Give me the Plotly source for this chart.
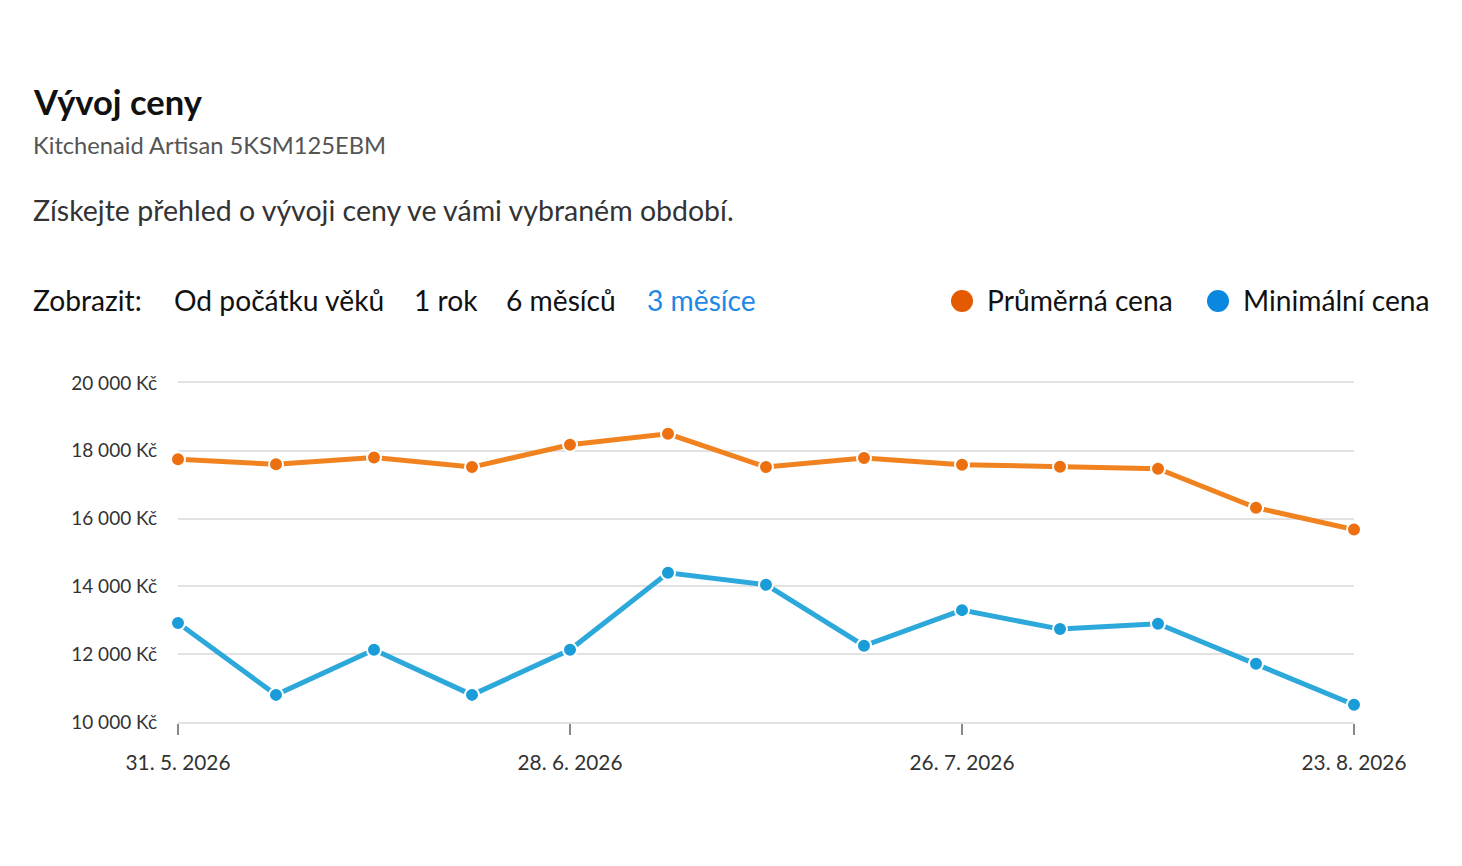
import plotly.graph_objects as go

# data (weekly points)
dates = ["2026-05-31", "2026-06-07", "2026-06-14", "2026-06-21", "2026-06-28",
         "2026-07-05", "2026-07-12", "2026-07-19", "2026-07-26", "2026-08-02",
         "2026-08-09", "2026-08-16", "2026-08-23"]
avg_price = [17750, 17600, 17800, 17520, 18180, 18500, 17520, 17790, 17590,
             17530, 17470, 16320, 15680]
min_price = [12920, 10800, 12130, 10800, 12130, 14400, 14050, 12250, 13300,
             12740, 12900, 11720, 10510]

y_ticks = [10000, 12000, 14000, 16000, 18000, 20000]
y_labels = ["10 000 Kč", "12 000 Kč", "14 000 Kč", "16 000 Kč", "18 000 Kč", "20 000 Kč"]
x_ticks = ["2026-05-31", "2026-06-28", "2026-07-26", "2026-08-23"]
x_labels = ["31. 5. 2026", "28. 6. 2026", "26. 7. 2026", "23. 8. 2026"]

periods = ["Od počátku věků", "1 rok", "6 měsíců", "3 měsíce"]
period_x = [174, 414, 506, 647]

FONT = "Lato, 'Noto Sans', sans-serif"
W, H = 1462, 866
OFF = 8  # page body margin
# plot area in screenshot pixels: x 178..1354, y 383..722
L, R = 178 - OFF, W - (1354 - OFF)
T, B = 383 - OFF, H - (722 - OFF)
PW, PH = W - L - R, H - T - B


def px(x):
    return (x - OFF - L) / PW


def py(y):
    return (H - B - (y - OFF)) / PH


fig = go.Figure()

fig.add_trace(go.Scatter(
    x=dates, y=avg_price, mode="lines+markers", name="Průměrná cena",
    line=dict(color="#F0831F", width=5),
    marker=dict(color="#EC7010", size=14, line=dict(color="white", width=2)),
    cliponaxis=False,
))
fig.add_trace(go.Scatter(
    x=dates, y=min_price, mode="lines+markers", name="Minimální cena",
    line=dict(color="#2DA8DA", width=5),
    marker=dict(color="#1A9CD8", size=14, line=dict(color="white", width=2)),
    cliponaxis=False,
))

ROW = 28.2
PAD = 2  # annotation inner padding
ann = []
ann.append(dict(text="<b>Vývoj ceny</b>", x=px(33 - PAD), y=py(101), font=dict(size=34.5, color="#111")))
ann.append(dict(text="Kitchenaid Artisan 5KSM125EBM", x=px(33 - PAD), y=py(145), font=dict(size=23.7, color="#555")))
ann.append(dict(text="Získejte přehled o vývoji ceny ve vámi vybraném období.", x=px(33 - PAD), y=py(210),
                font=dict(size=28.5, color="#333")))
ann.append(dict(text="Zobrazit:", x=px(33 - PAD), y=py(300), font=dict(size=ROW, color="#111")))
for i, p in enumerate(periods):
    col = "#1E88E5" if i == len(periods) - 1 else "#111"
    ann.append(dict(text=p, x=px(period_x[i] - PAD), y=py(300), font=dict(size=ROW, color=col)))
ann.append(dict(text="Průměrná cena", x=px(987 - PAD), y=py(300), font=dict(size=ROW, color="#111")))
ann.append(dict(text="Minimální cena", x=px(1243 - PAD), y=py(300), font=dict(size=ROW, color="#111")))
for a in ann:
    a.update(xref="paper", yref="paper", xanchor="left", yanchor="middle", showarrow=False)

shapes = []
for cx, col in [(962, "#E35A00"), (1218, "#0A88E0")]:
    shapes.append(dict(type="circle", xref="paper", yref="paper",
                       x0=px(cx - 11), x1=px(cx + 11), y0=py(301 + 11), y1=py(301 - 11),
                       fillcolor=col, line=dict(width=0)))

fig.update_layout(
    width=W, height=H,
    margin=dict(l=L, r=R, t=T, b=B),
    paper_bgcolor="white", plot_bgcolor="white",
    font=dict(family=FONT),
    showlegend=False,
    annotations=ann,
    shapes=shapes,
    xaxis=dict(
        type="date", range=[dates[0], dates[-1]],
        tickvals=x_ticks, ticktext=x_labels,
        showgrid=False, zeroline=False,
        showline=True, mirror=True, linecolor="#e2e2e2", linewidth=2,
        ticks="outside", ticklen=11, tickwidth=2, tickcolor="#888",
        ticklabelstandoff=10,
        tickfont=dict(size=20.8, color="#333"),
    ),
    yaxis=dict(
        range=[10000, 20000],
        tickvals=y_ticks, ticktext=y_labels,
        showgrid=True, gridcolor="#e2e2e2", gridwidth=2,
        zeroline=False, showline=False,
        ticks="", ticklabelstandoff=20,
        tickfont=dict(size=19, color="#333"),
    ),
)

fig.write_html("out.html")
